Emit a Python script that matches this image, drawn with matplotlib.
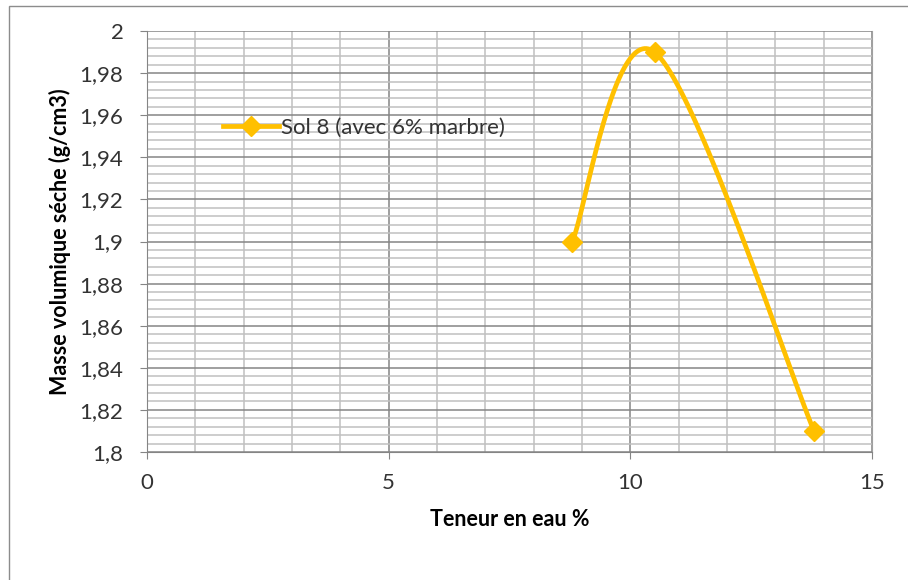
import numpy as np
import matplotlib
matplotlib.use("Agg")
import matplotlib.pyplot as plt
from matplotlib.ticker import MultipleLocator, FuncFormatter
from matplotlib.patches import Rectangle

# Proctor test data
teneur_eau = [8.8, 10.5, 13.8]          # water content (%)
masse_volumique = [1.90, 1.99, 1.81]    # dry density (g/cm3)
serie_label = "Sol 8 (avec 6% marbre)"
x_label = "Teneur en eau %"
y_label = "Masse volumique séche (g/cm3)"


def smooth_curve(xs, ys, n=60):
    """Cubic Bezier smoothing through the points (Catmull-Rom style)."""
    pts = np.column_stack([xs, ys]).astype(float)
    ext = np.vstack([pts[0], pts, pts[-1]])
    out = []
    t = np.linspace(0, 1, n)[:, None]
    for i in range(len(pts) - 1):
        p0, p1 = ext[i + 1], ext[i + 2]
        c1 = p0 + (ext[i + 2] - ext[i]) / 6.0
        c2 = p1 - (ext[i + 3] - ext[i + 1]) / 6.0
        seg = ((1 - t) ** 3) * p0 + 3 * ((1 - t) ** 2) * t * c1 \
            + 3 * (1 - t) * t ** 2 * c2 + t ** 3 * p1
        out.append(seg if i == 0 else seg[1:])
    seg = np.vstack(out)
    return seg[:, 0], seg[:, 1]


plt.rcParams["font.family"] = ["Lato", "DejaVu Sans"]

fig = plt.figure(figsize=(9.08, 5.80), dpi=100)
fig.patch.set_facecolor("white")

# chart area border
fig.add_artist(Rectangle((9 / 908, -0.05), 1.2, 1 - 6 / 580 + 0.05,
                         transform=fig.transFigure, fill=False,
                         edgecolor="#8c8c8c", linewidth=1.0))

ax = fig.add_axes([147 / 908, 1 - 452 / 580, (872 - 147) / 908, (452 - 31) / 580])

color = "#FFC000"
sx, sy = smooth_curve(teneur_eau, masse_volumique)
ax.plot(sx, sy, color=color, linewidth=3.4, solid_capstyle="round", zorder=3)
ax.plot(teneur_eau, masse_volumique, linestyle="none", marker="D",
        markersize=10, color=color, zorder=4)
# proxy for the legend entry
ax.plot([], [], color=color, linewidth=3.4, marker="D", markersize=10,
        label=serie_label)

ax.set_xlim(0, 15)
ax.set_ylim(1.8, 2.0)
ax.xaxis.set_major_locator(MultipleLocator(5))
ax.xaxis.set_minor_locator(MultipleLocator(1))
ax.yaxis.set_major_locator(MultipleLocator(0.02))
ax.yaxis.set_minor_locator(MultipleLocator(0.004))

ax.grid(which="major", color="#858585", linewidth=1.1, zorder=0)
ax.grid(which="minor", color="#c0c0c0", linewidth=1.1, zorder=0)
ax.set_axisbelow(True)

ax.spines["top"].set_visible(False)
ax.spines["right"].set_color("#a0a0a0")
ax.spines["left"].set_color("#858585")
ax.spines["bottom"].set_color("#858585")

fmt = FuncFormatter(lambda v, _: f"{round(v, 3):g}".replace(".", ","))
ax.yaxis.set_major_formatter(fmt)
ax.tick_params(axis="y", which="major", length=5, color="#858585",
               pad=12, labelsize=16, labelcolor="#333333")
ax.tick_params(axis="x", which="major", length=5, color="#858585",
               pad=10, labelsize=16, labelcolor="#333333")
ax.tick_params(which="minor", length=0)

ax.set_xlabel(x_label, fontsize=15.5, fontweight="bold", labelpad=12)
ax.set_ylabel(y_label, fontsize=15.5, fontweight="bold", labelpad=6)

leg = ax.legend(loc="center left", bbox_to_anchor=(0.093, 0.77),
                frameon=False, fontsize=16, handlelength=2.5,
                handletextpad=0.1, borderaxespad=0)
for t in leg.get_texts():
    t.set_color("#333333")

fig.savefig("out.png", dpi=100, facecolor="white")
